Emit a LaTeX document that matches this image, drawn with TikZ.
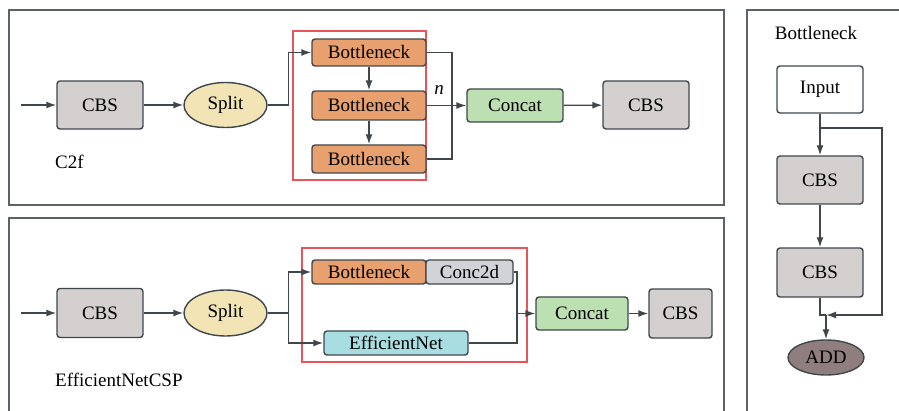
\documentclass[tikz,border=0pt]{standalone}
\usepackage{fontspec}
\setmainfont{Liberation Serif}
\usetikzlibrary{arrows.meta,shapes.geometric}
\definecolor{edge}{HTML}{3F474D}
\definecolor{panel}{HTML}{5B6369}
\definecolor{cbsgray}{HTML}{D4D0D0}
\definecolor{orangeb}{HTML}{E8A06E}
\definecolor{splitc}{HTML}{F2E4B4}
\definecolor{concatg}{HTML}{BCE0B2}
\definecolor{cyanb}{HTML}{A8DEE2}
\definecolor{convgray}{HTML}{D2D3D6}
\definecolor{addc}{HTML}{907E7F}
\definecolor{redbox}{HTML}{E8535C}
\begin{document}
\begin{tikzpicture}[x=1pt,y=-1pt,
  font=\fontsize{19}{22}\selectfont,
  box/.style={draw=edge, line width=1.4pt, rounded corners=3pt, inner sep=0pt},
  oval/.style={draw=edge, line width=1.4pt, ellipse, inner sep=0pt},
  conn/.style={draw=edge, line width=1.4pt},
  arr/.style={conn, -{Latex[length=10pt,width=7pt]}},
  frame/.style={draw=panel, line width=1.5pt},
  redframe/.style={draw=redbox, line width=1.3pt}]
\clip (0,0) rectangle (899,411);
% panels
\draw[frame] (9,10) rectangle (724,205);
\draw[frame] (9,218) rectangle (724,440);
\draw[frame] (747,10) rectangle (920,440);

% ---------- top panel (C2f)
\draw[redframe] (293,31) rectangle (426,180);
\node[box, fill=cbsgray, minimum width=86pt, minimum height=48pt] (c1) at (100,105) {CBS};
\node[oval, fill=splitc, minimum width=83pt, minimum height=45pt] (s1) at (225.5,105) {Split};
\node[box, fill=orangeb, minimum width=114pt, minimum height=27pt] (b1) at (369,52.5) {Bottleneck};
\node[box, fill=orangeb, minimum width=114pt, minimum height=29pt] (b2) at (369,105.5) {Bottleneck};
\node[box, fill=orangeb, minimum width=114pt, minimum height=28pt] (b3) at (369,159) {Bottleneck};
\node[box, fill=concatg, minimum width=96pt, minimum height=33pt] (cc1) at (515,105.5) {Concat};
\node[box, fill=cbsgray, minimum width=86pt, minimum height=48pt] (c2) at (646,105) {CBS};
\node[anchor=west, inner sep=0pt] (lab1) at (55,162) {C2f};
\node[inner sep=0pt] (nlab) at (439,90) {\itshape n};
\coordinate (in1) at (21,105);
\coordinate (j1) at (452,105.5);
\draw[arr] (in1) -- (c1);
\draw[arr] (c1) -- (s1);
\draw[arr] (s1.east) -- ++(21,0) |- (b1.west);
\draw[arr] (b1) -- (b2);
\draw[arr] (b2) -- (b3);
\draw[conn] (b1.east) -| (j1);
\draw[conn] (b3.east) -| (j1);
\draw[arr] (b2.east) -- (cc1.west);
\draw[arr] (cc1) -- (c2);

% ---------- bottom panel (EfficientNetCSP)
\draw[redframe] (302,248) rectangle (527,362);
\node[box, fill=cbsgray, minimum width=86pt, minimum height=49pt] (c3) at (100,313) {CBS};
\node[oval, fill=splitc, minimum width=83pt, minimum height=46pt] (s2) at (225.5,313) {Split};
\node[box, fill=orangeb, minimum width=114pt, minimum height=24pt] (bb) at (369,272) {Bottleneck};
\node[box, fill=convgray, minimum width=87pt, minimum height=24pt] (cd) at (469.5,272) {Conc2d};
\node[box, fill=cyanb, minimum width=144pt, minimum height=24pt] (en) at (396,343) {EfficientNet};
\node[box, fill=concatg, minimum width=92pt, minimum height=33pt] (cc2) at (582,313.5) {Concat};
\node[box, fill=cbsgray, minimum width=63pt, minimum height=49pt] (c4) at (680.5,313.5) {CBS};
\node[anchor=west, inner sep=0pt] (lab2) at (55,380) {EfficientNetCSP};
\coordinate (in2) at (21,313);
\coordinate (j2) at (517,313.5);
\draw[arr] (in2) -- (c3);
\draw[arr] (c3) -- (s2);
\draw[arr] (s2.east) -- ++(21,0) |- (bb.west);
\draw[arr] (s2.east) -- ++(21,0) |- (en.west);
\draw[conn] (cd.east) -| (j2);
\draw[conn] (en.east) -| (j2);
\draw[arr] (j2) -- (cc2.west);
\draw[arr] (cc2) -- (c4);

% ---------- right panel (Bottleneck)
\node[inner sep=0pt] (lab3) at (816,33) {Bottleneck};
\node[box, fill=white, minimum width=86pt, minimum height=47pt] (inp) at (820,89.5) {Input};
\node[box, fill=cbsgray, minimum width=86pt, minimum height=48pt] (cb1) at (820,180) {CBS};
\node[box, fill=cbsgray, minimum width=86pt, minimum height=49pt] (cb2) at (820,272.5) {CBS};
\node[oval, fill=addc, minimum width=76pt, minimum height=35pt] (add) at (826,357.5) {ADD};
\coordinate (sk) at (820,128);
\coordinate (jn) at (826,315);
\draw[arr] (inp) -- (cb1);
\draw[arr] (cb1) -- (cb2);
\draw[conn] (cb2.south) |- (jn);
\draw[arr] (sk) -| (882,315) -- (jn);
\draw[arr] (jn) -- (add.north);
\end{tikzpicture}
\end{document}
